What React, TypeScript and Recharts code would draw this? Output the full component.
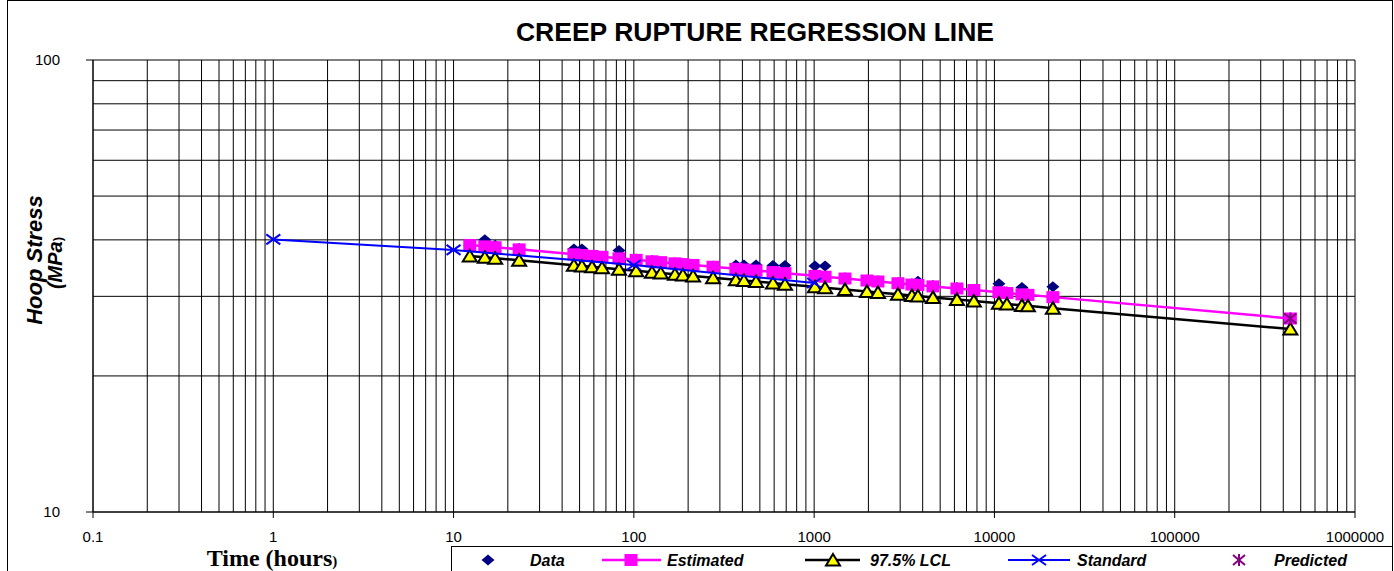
import { CartesianGrid, Scatter, ScatterChart, XAxis, YAxis } from "recharts";

// test times (hours), one per tested specimen
const hours = [
  12.3, 14.9, 17, 23.1, 46.5, 51.5, 58.6, 66.6, 82.7, 103, 126, 141, 169, 187, 213, 275, 368, 408, 476, 591,
  689, 1010, 1150, 1483, 1963, 2259, 2917, 3486, 3765, 4560, 6195, 7690, 10590, 11730, 14210, 15340, 21100,
];
const measured = [
  38.8, 40.0, 38.9, 38.3, 38.2, 38.2, 37.0, 36.8, 37.9, 36.3, 36.0, 35.8, 35.6, 35.5, 35.3, 35.0, 35.2, 35.2, 35.2, 35.1,
  35.1, 35.0, 35.0, 33.0, 32.6, 32.5, 32.2, 32.0, 32.4, 31.7, 31.4, 31.1, 32.0, 30.7, 31.4, 30.4, 31.5,
];
// 50 year design life
const horizon = 438000;
const estimated = [
  38.97, 38.7, 38.53, 38.11, 37.16, 37.03, 36.86, 36.69, 36.41, 36.13, 35.86, 35.71, 35.49, 35.36, 35.2, 34.88, 34.52,
  34.39, 34.21, 33.95, 33.76, 33.3, 33.15, 32.85, 32.52, 32.36, 32.07, 31.86, 31.78, 31.56, 31.22, 30.98, 30.63, 30.51,
  30.3, 30.23, 29.88, 26.8,
];
const lcl = [
  36.85, 36.6, 36.43, 36.04, 35.14, 35.02, 34.86, 34.69, 34.43, 34.16, 33.91, 33.77, 33.56, 33.44, 33.28, 32.98, 32.64,
  32.52, 32.35, 32.1, 31.92, 31.49, 31.35, 31.06, 30.75, 30.6, 30.33, 30.13, 30.05, 29.84, 29.52, 29.3, 28.96, 28.85,
  28.65, 28.58, 28.25, 25.4,
];
const standardHours = [1, 10, 100, 1000];
const standardStress = [40.1, 38.0, 35.2, 32.1];
const predictedStress = [26.8];

const xDecades = [0.1, 1, 10, 100, 1000, 10000, 100000, 1000000];
const xLabels = ["0.1", "1", "10", "100", "1000", "10000", "100000", "1000000"];
const yTicks = [10, 20, 30, 40, 50, 60, 70, 80, 90, 100];
const yLabels: Record<number, string> = { 10: "10", 100: "100" };
const steps = [1, 2, 3, 4, 5, 6, 7, 8, 9];

const xTicks = xDecades.slice(0, -1).flatMap((d) => steps.map((m) => +(d * m).toPrecision(6))).concat(1000000);

const allHours = [...hours, horizon];
const dataPts = hours.map((x, i) => ({ x, y: measured[i] }));
const estPts = allHours.map((x, i) => ({ x, y: estimated[i] }));
const lclPts = allHours.map((x, i) => ({ x, y: lcl[i] }));
const stdPts = standardHours.map((x, i) => ({ x, y: standardStress[i] }));
const predPts = [{ x: horizon, y: predictedStress[0] }];

const TICK_FONT = "'Liberation Sans', Arial, sans-serif";
const PLOT_BOTTOM = 512;
const PLOT_LEFT = 93;

const XTick = (props: any) => {
  const { x, payload } = props;
  const idx = xDecades.indexOf(payload.value);
  if (idx < 0) return <g />;
  return (
    <g>
      <line x1={x} x2={x} y1={PLOT_BOTTOM} y2={PLOT_BOTTOM + 6} stroke="#000" />
      <text x={x} y={542} textAnchor="middle" fontFamily={TICK_FONT} fontSize={15} fill="#000">
        {xLabels[idx]}
      </text>
    </g>
  );
};

const YTick = (props: any) => {
  const { y, payload } = props;
  const label = yLabels[payload.value];
  if (!label) return <g />;
  return (
    <g>
      <line x1={PLOT_LEFT - 7} x2={PLOT_LEFT} y1={y} y2={y} stroke="#000" />
      <text x={60} y={y + 5} textAnchor="end" fontFamily={TICK_FONT} fontSize={15} fill="#000">
        {label}
      </text>
    </g>
  );
};

const Diamond = ({ cx, cy }: any) => (
  <polygon points={`${cx},${cy - 5.5} ${cx + 6.5},${cy} ${cx},${cy + 5.5} ${cx - 6.5},${cy}`} fill="#000080" />
);
const Square = ({ cx, cy }: any) => <rect x={cx - 6.5} y={cy - 6} width={13} height={12} fill="#FF00FF" />;
const Triangle = ({ cx, cy }: any) => (
  <polygon
    points={`${cx},${cy - 6} ${cx + 7},${cy + 5.5} ${cx - 7},${cy + 5.5}`}
    fill="#FFFF00"
    stroke="#000"
    strokeWidth={2}
  />
);
const Cross = ({ cx, cy }: any) => (
  <g stroke="#0000FF" strokeWidth={2}>
    <line x1={cx - 7} y1={cy - 5} x2={cx + 7} y2={cy + 5} />
    <line x1={cx - 7} y1={cy + 5} x2={cx + 7} y2={cy - 5} />
  </g>
);
const Star = ({ cx, cy }: any) => (
  <g stroke="#800080" strokeWidth={2}>
    <line x1={cx - 6} y1={cy - 5} x2={cx + 6} y2={cy + 5} />
    <line x1={cx - 6} y1={cy + 5} x2={cx + 6} y2={cy - 5} />
    <line x1={cx} y1={cy - 6} x2={cx} y2={cy + 6} />
  </g>
);

const legendText = {
  fontFamily: TICK_FONT,
  fontSize: 16,
  fontWeight: "bold" as const,
  fontStyle: "italic" as const,
  fill: "#000",
};

export default function App() {
  return (
    <div style={{ position: "absolute", left: 0, top: 0, width: 1394, height: 571, background: "#fff" }}>
      <ScatterChart width={1394} height={571} margin={{ top: 60, right: 39, bottom: 0, left: 0 }}>
        <CartesianGrid stroke="#000" strokeWidth={1} />
        <XAxis
          dataKey="x"
          type="number"
          scale="log"
          domain={[0.1, 1000000]}
          ticks={xTicks}
          interval={0}
          tick={<XTick />}
          tickLine={false}
          axisLine={{ stroke: "#000" }}
          height={59}
          allowDataOverflow
        />
        <YAxis
          dataKey="y"
          type="number"
          scale="log"
          domain={[10, 100]}
          ticks={yTicks}
          interval={0}
          tick={<YTick />}
          tickLine={false}
          axisLine={{ stroke: "#000" }}
          width={93}
          allowDataOverflow
        />
        <Scatter data={dataPts} shape={Diamond} isAnimationActive={false} />
        <Scatter
          data={estPts}
          shape={Square}
          line={{ stroke: "#FF00FF", strokeWidth: 2.5 }}
          lineType="joint"
          isAnimationActive={false}
        />
        <Scatter
          data={lclPts}
          shape={Triangle}
          line={{ stroke: "#000", strokeWidth: 2.5 }}
          lineType="joint"
          isAnimationActive={false}
        />
        <Scatter
          data={stdPts}
          shape={Cross}
          line={{ stroke: "#0000FF", strokeWidth: 2 }}
          lineType="joint"
          isAnimationActive={false}
        />
        <Scatter data={predPts} shape={Star} isAnimationActive={false} />
      </ScatterChart>

      <svg width={1394} height={571} style={{ position: "absolute", left: 0, top: 0, pointerEvents: "none" }}>
        <rect x={7.5} y={0.5} width={1385} height={600} fill="none" stroke="#000" />
        <text x={755} y={41} textAnchor="middle" fontFamily={TICK_FONT} fontWeight="bold" fontSize={26.5} fill="#000">
          CREEP RUPTURE REGRESSION LINE
        </text>
        <text
          transform="translate(42,260) rotate(-90)"
          textAnchor="middle"
          fontFamily={TICK_FONT}
          fontWeight="bold"
          fontStyle="italic"
          fontSize={22}
          fill="#000"
        >
          Hoop Stress
        </text>
        <text
          transform="translate(62,263) rotate(-90)"
          textAnchor="middle"
          fontFamily={TICK_FONT}
          fontWeight="bold"
          fontStyle="italic"
          fontSize={20}
          fill="#000"
        >
          (MPa<tspan fontSize={13} fontStyle="normal">)</tspan>
        </text>
        <text
          x={272}
          y={566}
          textAnchor="middle"
          fontFamily="'Liberation Serif', 'Times New Roman', serif"
          fontWeight="bold"
          fontSize={24}
          fill="#000"
        >
          Time (hours<tspan fontSize={15}>)</tspan>
        </text>

        <rect x={451.5} y={546.5} width={941} height={40} fill="#fff" stroke="#000" />
        <Diamond cx={488} cy={560} />
        <text x={530} y={566} {...legendText}>Data</text>
        <line x1={602} x2={661} y1={560} y2={560} stroke="#FF00FF" strokeWidth={2.5} />
        <Square cx={631} cy={560} />
        <text x={667} y={566} {...legendText}>Estimated</text>
        <line x1={805} x2={860} y1={560} y2={560} stroke="#000" strokeWidth={2.5} />
        <Triangle cx={833} cy={560} />
        <text x={870} y={566} {...legendText}>97.5% LCL</text>
        <line x1={1008} x2={1070} y1={560} y2={560} stroke="#0000FF" strokeWidth={2} />
        <Cross cx={1039} cy={560} />
        <text x={1077} y={566} {...legendText}>Standard</text>
        <Star cx={1239} cy={560} />
        <text x={1274} y={566} {...legendText}>Predicted</text>
      </svg>
    </div>
  );
}
